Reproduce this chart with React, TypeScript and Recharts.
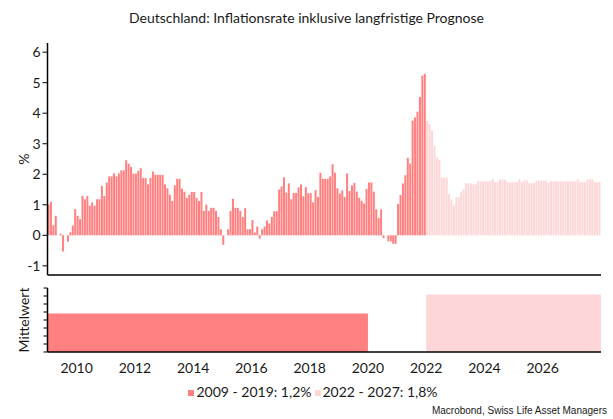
import React from 'react';
import { BarChart, Bar, XAxis, YAxis, ComposedChart, Area, Legend } from 'recharts';

// ---------- data ----------
const START_YEAR = 2009;
const TOTAL_MONTHS = 228; // Jan 2009 .. Dec 2027

// Actual CPI inflation (y/y, %), Jan 2009 .. Dec 2021
const actual: number[] = [
  // 2009
  1.0, 1.1, 0.33, 0.64, 0.0, 0.05, -0.53, 0.0, -0.21, 0.1, 0.32, 0.86,
  // 2010
  0.64, 0.53, 1.29, 1.18, 1.29, 0.97, 1.08, 0.97, 1.18, 1.18, 1.62, 1.29,
  // 2011
  1.73, 1.93, 1.93, 2.03, 1.93, 2.03, 2.13, 2.13, 2.46, 2.35, 2.24, 2.02,
  // 2012
  2.02, 2.11, 2.2, 1.88, 1.88, 1.67, 1.88, 2.09, 1.98, 1.98, 1.98, 1.98,
  // 2013
  1.67, 1.54, 1.33, 1.12, 1.64, 1.85, 1.85, 1.53, 1.43, 1.22, 1.33, 1.42,
  // 2014
  1.42, 1.22, 1.12, 1.42, 0.8, 1.01, 0.8, 0.9, 0.9, 0.8, 0.6, 0.2,
  // 2015
  -0.31, 0.0, 0.2, 0.8, 1.2, 0.9, 0.9, 0.8, 0.6, 0.89, 0.2, 0.2,
  // 2016
  0.5, 0.09, 0.29, -0.11, 0.2, 0.29, 0.49, 0.39, 0.6, 0.79, 0.79, 1.5,
  // 2017
  1.6, 1.9, 1.4, 1.7, 1.18, 1.39, 1.39, 1.57, 1.67, 1.28, 1.58, 1.38,
  // 2018
  1.38, 1.08, 1.48, 1.26, 2.05, 1.85, 1.85, 1.85, 1.93, 2.33, 2.05, 1.54,
  // 2019
  1.37, 1.47, 1.25, 2.03, 1.45, 1.63, 1.72, 1.43, 1.23, 1.13, 1.04, 1.52,
  // 2020
  1.73, 1.73, 1.43, 0.85, 0.57, 0.85, -0.09, 0.0, -0.2, -0.2, -0.28, -0.28,
  // 2021
  1.03, 1.32, 1.7, 1.97, 2.54, 2.35, 3.76, 3.86, 4.05, 4.53, 5.23, 5.29,
];

// Forecast, Jan 2022 .. Dec 2027
const forecast: number[] = [
  // 2022
  3.75, 3.64, 3.42, 2.93, 2.55, 2.47, 1.89, 1.89, 1.89, 1.35, 1.17, 0.98,
  // 2023
  1.25, 1.25, 1.42, 1.51, 1.7, 1.7, 1.7, 1.67, 1.67, 1.77, 1.77, 1.77,
  // 2024
  1.77, 1.77, 1.77, 1.84, 1.74, 1.74, 1.83, 1.83, 1.83, 1.74, 1.74, 1.74,
  // 2025
  1.74, 1.74, 1.83, 1.74, 1.8, 1.8, 1.71, 1.71, 1.71, 1.79, 1.79, 1.79,
  // 2026
  1.79, 1.79, 1.71, 1.77, 1.77, 1.77, 1.77, 1.77, 1.77, 1.77, 1.77, 1.77,
  // 2027
  1.77, 1.77, 1.84, 1.74, 1.74, 1.74, 1.83, 1.83, 1.83, 1.74, 1.74, 1.74,
];

const months: string[] = Array.from({ length: TOTAL_MONTHS }, (_, i) =>
  `${START_YEAR + Math.floor(i / 12)}-${String((i % 12) + 1).padStart(2, '0')}`
);

const yTicks: number[] = [-1, 0, 1, 2, 3, 4, 5, 6];
const yearLabels: number[] = [2010, 2012, 2014, 2016, 2018, 2020, 2022, 2024, 2026];
const meanTicks: number[] = [0, 0.25, 0.5, 0.75, 1, 1.25, 1.5, 1.75, 2];

// Period means (bottom panel)
const meanPeriods: string[] = ['2009 - 2019', '2022 - 2027'];
const meanValues: number[] = [1.2, 1.8];
const meanStartMonth: number[] = [0, 156];
const meanEndMonth: number[] = [132, 228];

// ---------- derived tables ----------
const topData = months.map((m, i) => ({
  m,
  actual: i < actual.length ? actual[i] : null,
  forecast: i >= actual.length ? forecast[i - actual.length] : null,
}));

const meanKeys = ['early', 'late'];
const meanData: any[] = [];
meanKeys.forEach((k, idx) => {
  [meanStartMonth[idx], meanEndMonth[idx]].forEach((t) => {
    const row: any = { t, early: null, late: null };
    row[k] = meanValues[idx];
    meanData.push(row);
  });
});

const meanNames = meanPeriods.map(
  (p, i) => `${p}: ${meanValues[i].toFixed(1).replace('.', ',')}%`
);

const yearTickPositions = yearLabels.map((y) => (y - START_YEAR) * 12);

// ---------- style ----------
const DARK = '#ff8080';
const LIGHT = '#fdd7d7';
const FONT = 'Lato, "Noto Sans", sans-serif';
const TEXT = '#1a1a1a';

const RotLabel = ({ x, y, text }: { x: number; y: number; text: string }) => (
  <text
    x={x}
    y={y}
    transform={`rotate(-90 ${x} ${y})`}
    textAnchor="middle"
    dominantBaseline="central"
    fontSize={14}
    fontFamily={FONT}
    fill={TEXT}
  >
    {text}
  </text>
);

const renderLegend = (props: any) => {
  const { payload } = props;
  return (
    <div
      style={{
        display: 'flex',
        justifyContent: 'center',
        paddingLeft: 16,
        fontFamily: FONT,
        fontSize: 14,
        color: TEXT,
        lineHeight: '18px',
      }}
    >
      {(payload || []).map((e: any, i: number) => (
        <div key={i} style={{ display: 'flex', alignItems: 'center', marginRight: 3 }}>
          <span
            style={{
              display: 'inline-block',
              width: 6,
              height: 6,
              background: e.color,
              marginRight: 2,
              marginTop: 2,
            }}
          />
          <span>{e.value}</span>
        </div>
      ))}
    </div>
  );
};

export default function App() {
  return (
    <div
      style={{
        position: 'absolute',
        left: 0,
        top: 0,
        width: 613,
        height: 419,
        background: '#fff',
        fontFamily: FONT,
      }}
    >
      <div
        style={{
          position: 'absolute',
          top: 8,
          left: 0,
          width: 613,
          textAlign: 'center',
          fontSize: 14,
          lineHeight: '20px',
          color: TEXT,
        }}
      >
        Deutschland: Inflationsrate inklusive langfristige Prognose
      </div>

      <div style={{ position: 'absolute', top: 0, left: 0 }}>
        <BarChart
          width={613}
          height={285}
          data={topData}
          margin={{ top: 43, right: 12, bottom: 9, left: 0 }}
          barCategoryGap={0}
          barGap={0}
        >
          <XAxis
            dataKey="m"
            tick={false}
            tickLine={false}
            height={1}
            axisLine={{ stroke: '#000', strokeWidth: 1.5 }}
          />
          <YAxis
            width={47.5}
            domain={[-1.3, 6.3]}
            ticks={yTicks}
            allowDataOverflow
            interval={0}
            tickSize={5}
            tickLine={{ stroke: '#000' }}
            axisLine={{ stroke: '#000', strokeWidth: 1.5 }}
            tick={{ fill: TEXT, fontSize: 14, fontFamily: FONT }}
            label={<RotLabel x={18} y={158} text="%" />}
          />
          <Bar dataKey="actual" stackId="s" fill={DARK} isAnimationActive={false} />
          <Bar dataKey="forecast" stackId="s" fill={LIGHT} isAnimationActive={false} />
        </BarChart>
      </div>

      <div style={{ position: 'absolute', top: 280, left: 0 }}>
        <ComposedChart
          width={613}
          height={139}
          data={meanData}
          margin={{ top: 8, right: 12, bottom: 37, left: 0 }}
        >
          <XAxis
            type="number"
            dataKey="t"
            domain={[0, TOTAL_MONTHS]}
            ticks={yearTickPositions}
            interval={0}
            tickFormatter={(t: number) => String(START_YEAR + t / 12)}
            tickLine={false}
            tickMargin={5}
            height={30}
            axisLine={{ stroke: '#000', strokeWidth: 1.5 }}
            tick={{ fill: TEXT, fontSize: 14, fontFamily: FONT }}
          />
          <YAxis
            width={47.5}
            domain={[0, 2]}
            ticks={meanTicks}
            interval={0}
            allowDataOverflow
            tickFormatter={() => ''}
            tick={{ fontSize: 1, fill: 'none' }}
            tickSize={4}
            tickLine={{ stroke: '#000' }}
            axisLine={{ stroke: '#000', strokeWidth: 1.5 }}
            label={<RotLabel x={18} y={321} text="Mittelwert" />}
          />
          <Area
            dataKey="early"
            name={meanNames[0]}
            type="linear"
            stroke="none"
            fill={DARK}
            fillOpacity={1}
            connectNulls={false}
            dot={false}
            activeDot={false}
            isAnimationActive={false}
          />
          <Area
            dataKey="late"
            name={meanNames[1]}
            type="linear"
            stroke="none"
            fill={LIGHT}
            fillOpacity={1}
            connectNulls={false}
            dot={false}
            activeDot={false}
            isAnimationActive={false}
          />
          <Legend
            layout="horizontal"
            verticalAlign="middle"
            align="center"
            wrapperStyle={{ top: 103, left: 0, width: 613 }}
            content={renderLegend}
          />
        </ComposedChart>
      </div>

      <div
        style={{
          position: 'absolute',
          right: 6,
          top: 405,
          fontSize: 10,
          lineHeight: '12px',
          fontFamily: '"Liberation Sans", Arial, sans-serif',
          color: TEXT,
        }}
      >
        Macrobond, Swiss Life Asset Managers
      </div>
    </div>
  );
}
